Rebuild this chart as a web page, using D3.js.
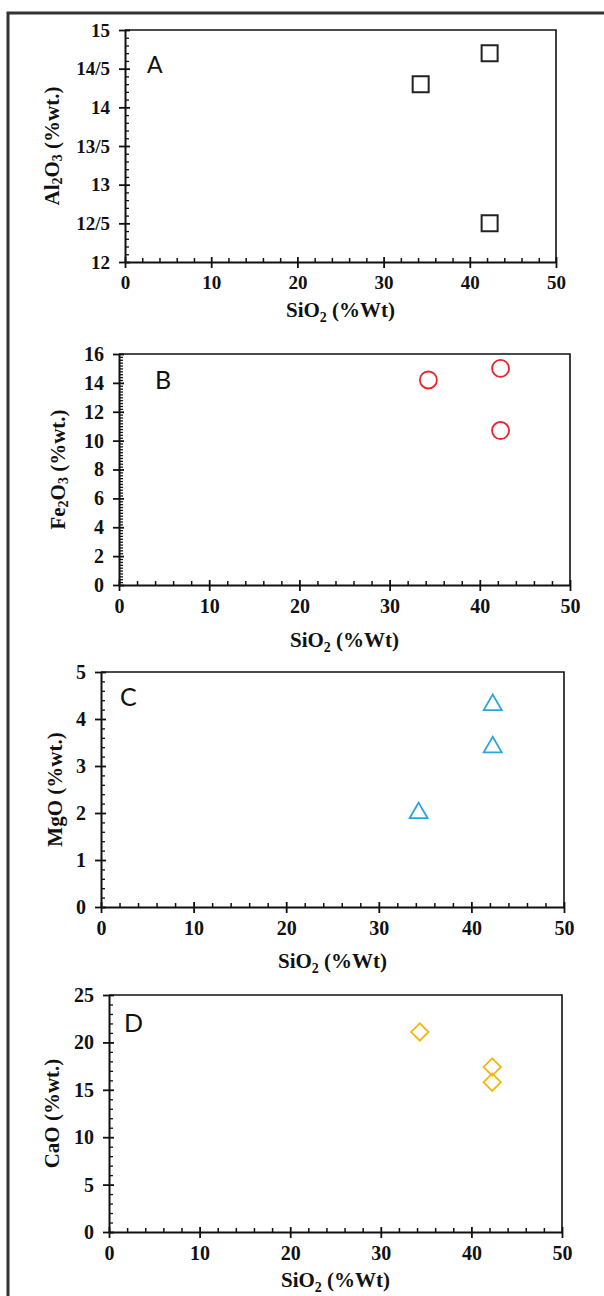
<!DOCTYPE html>
<html><head><meta charset="utf-8">
<script src="https://cdn.jsdelivr.net/npm/d3@7"></script>
<style>
html,body{margin:0;padding:0;background:#fff;}
svg{display:block;}
.tick text{font-family:"Liberation Serif","Times New Roman",serif;font-weight:bold;fill:#111;}
</style></head>
<body>
<script>
// ---- data ----
const silica = [34.3, 42.3, 42.3];
const al2o3 = [14.3, 14.7, 12.5];
const fe2o3 = [14.2, 15.0, 10.7];
const mgo = [2.0, 4.3, 3.4];
const cao = [21.1, 17.4, 15.8];

const xTicks = [0, 10, 20, 30, 40, 50];
const alTicks = [12, 12.5, 13, 13.5, 14, 14.5, 15];
const alTickLabels = ["12", "12/5", "13", "13/5", "14", "14/5", "15"];
const feTicks = [0, 2, 4, 6, 8, 10, 12, 14, 16];
const mgTicks = [0, 1, 2, 3, 4, 5];
const caTicks = [0, 5, 10, 15, 20, 25];

const panelLetters = ["A", "B", "C", "D"];

const W = 604, H = 1296;
const svg = d3.select("body").append("svg").attr("width", W).attr("height", H);

// outer frame
svg.append("rect").attr("x", 8).attr("y", 13).attr("width", 640).attr("height", 1320)
  .attr("fill", "none").attr("stroke", "#333").attr("stroke-width", 3);

const panels = [
  {letter: panelLetters[0], ys: al2o3, yDomain: [12, 15], yTicks: alTicks, yLabels: alTickLabels, yMinor: 0.1,
   box: {l: 125, r: 556, t: 30, b: 262}, tickFont: 19, letterFont: 23, letterPos: [147, 73],
   yTitle: ["Al", "2", "O", "3", " (%wt.)"], yTitleX: 54, xTitleY: 317,
   symbol: "square", color: "#222"},
  {letter: panelLetters[1], ys: fe2o3, yDomain: [0, 16], yTicks: feTicks, yMinor: 0.2,
   box: {l: 119, r: 570, t: 354, b: 585}, tickFont: 20, letterFont: 25, letterPos: [155, 389],
   yTitle: ["Fe", "2", "O", "3", " (%wt.)"], yTitleX: 60, xTitleY: 647,
   symbol: "circle", color: "#e8252c"},
  {letter: panelLetters[2], ys: mgo, yDomain: [0, 5], yTicks: mgTicks, yMinor: 0.2,
   box: {l: 101, r: 564, t: 672, b: 907}, tickFont: 20, letterFont: 25, letterPos: [120, 706],
   yTitle: ["MgO (%wt.)"], yTitleX: 57, xTitleY: 968,
   symbol: "triangle", color: "#2aa6dc"},
  {letter: panelLetters[3], ys: cao, yDomain: [0, 25], yTicks: caTicks, yMinor: 1,
   box: {l: 109, r: 562, t: 995, b: 1232}, tickFont: 20, letterFont: 25, letterPos: [124, 1032],
   yTitle: ["CaO (%wt.)"], yTitleX: 54, xTitleY: 1287,
   symbol: "diamond", color: "#f3b70f"}
];

function range(a, b, s) { const out = []; for (let v = a; v <= b + 1e-9; v += s) out.push(+v.toFixed(6)); return out; }

panels.forEach(p => {
  const {l, r, t, b} = p.box;
  const x = d3.scaleLinear().domain([0, 50]).range([l, r]);
  const y = d3.scaleLinear().domain(p.yDomain).range([b, t]);
  const g = svg.append("g");

  // box top/right
  g.append("path").attr("d", `M${x(0)},${y(p.yDomain[1])}H${x(50)}V${y(p.yDomain[0])}`)
    .attr("fill", "none").attr("stroke", "#111").attr("stroke-width", 1.6);

  // minor ticks
  const xMinor = range(0, 50, 2).filter(v => v % 10 !== 0);
  g.append("g").attr("transform", `translate(0,${b})`)
    .call(d3.axisBottom(x).tickValues(xMinor).tickSize(-4).tickSizeOuter(0).tickFormat(""))
    .call(s => s.select(".domain").remove())
    .selectAll("line").attr("stroke", "#111").attr("stroke-width", 1.5);
  const step = p.yTicks[1] - p.yTicks[0];
  const yMinor = range(p.yDomain[0], p.yDomain[1], p.yMinor).filter(v => Math.abs(v / step - Math.round(v / step)) > 1e-6);
  g.append("g").attr("transform", `translate(${l},0)`)
    .call(d3.axisLeft(y).tickValues(yMinor).tickSize(-4).tickSizeOuter(0).tickFormat(""))
    .call(s => s.select(".domain").remove())
    .selectAll("line").attr("stroke", "#111").attr("stroke-width", 1.3);

  // major x axis
  const xa = g.append("g").attr("transform", `translate(0,${b})`)
    .call(d3.axisBottom(x).tickValues(xTicks).tickSize(6).tickSizeOuter(0).tickPadding(8));
  xa.select(".domain").attr("stroke", "#111").attr("stroke-width", 2);
  xa.selectAll(".tick line").attr("y1", -5).attr("stroke", "#111").attr("stroke-width", 1.8);
  xa.selectAll(".tick text").attr("font-size", p.tickFont);

  // major y axis
  const ya = g.append("g").attr("transform", `translate(${l},0)`)
    .call(d3.axisLeft(y).tickValues(p.yTicks).tickSize(6).tickSizeOuter(0).tickPadding(9)
      .tickFormat((d, i) => p.yLabels ? p.yLabels[i] : d));
  ya.select(".domain").attr("stroke", "#111").attr("stroke-width", 2);
  ya.selectAll(".tick line").attr("x1", 5).attr("stroke", "#111").attr("stroke-width", 1.8);
  ya.selectAll(".tick text").attr("font-size", p.tickFont);

  // x title
  const xt = g.append("text").attr("x", (l + r) / 2).attr("y", p.xTitleY).attr("text-anchor", "middle")
    .attr("font-family", "Liberation Serif, serif").attr("font-weight", "bold").attr("font-size", 21).attr("fill", "#111");
  xt.append("tspan").text("SiO");
  xt.append("tspan").attr("font-size", 14).attr("dy", 5).text("2");
  xt.append("tspan").attr("dy", -5).text(" (%Wt)");

  // y title
  const yt = g.append("text").attr("transform", `translate(${p.yTitleX},${(t + b) / 2}) rotate(-90)`)
    .attr("text-anchor", "middle").attr("dominant-baseline", "middle")
    .attr("font-family", "Liberation Serif, serif").attr("font-weight", "bold").attr("font-size", 21).attr("fill", "#111");
  p.yTitle.forEach((s, i) => {
    const sub = /^[0-9]$/.test(s);
    const prevSub = i > 0 && /^[0-9]$/.test(p.yTitle[i - 1]);
    const ts = yt.append("tspan").text(s);
    if (sub) ts.attr("font-size", 14).attr("dy", 5);
    else if (prevSub) ts.attr("dy", -5);
  });

  // panel letter
  g.append("text").attr("x", p.letterPos[0]).attr("y", p.letterPos[1])
    .attr("font-family", "Lato, 'Open Sans', sans-serif").attr("font-size", p.letterFont).attr("fill", "#111")
    .text(p.letter);

  // markers
  const sym = {
    square: d3.symbol().type(d3.symbolSquare).size(256),
    circle: d3.symbol().type(d3.symbolCircle).size(Math.PI * 8.5 * 8.5),
    triangle: d3.symbol().type(d3.symbolTriangle).size(140),
    diamond: d3.symbol().type(d3.symbolSquare).size(150)
  }[p.symbol];
  const rot = p.symbol === "diamond" ? " rotate(45)" : "";
  g.selectAll("path.pt").data(silica.map((s, i) => [s, p.ys[i]])).join("path")
    .attr("class", "pt")
    .attr("transform", d => `translate(${x(d[0])},${y(d[1])})${rot}`)
    .attr("d", sym)
    .attr("fill", "none").attr("stroke", p.color).attr("stroke-width", p.symbol === "square" ? 2 : 1.8);
});
</script>
</body></html>
